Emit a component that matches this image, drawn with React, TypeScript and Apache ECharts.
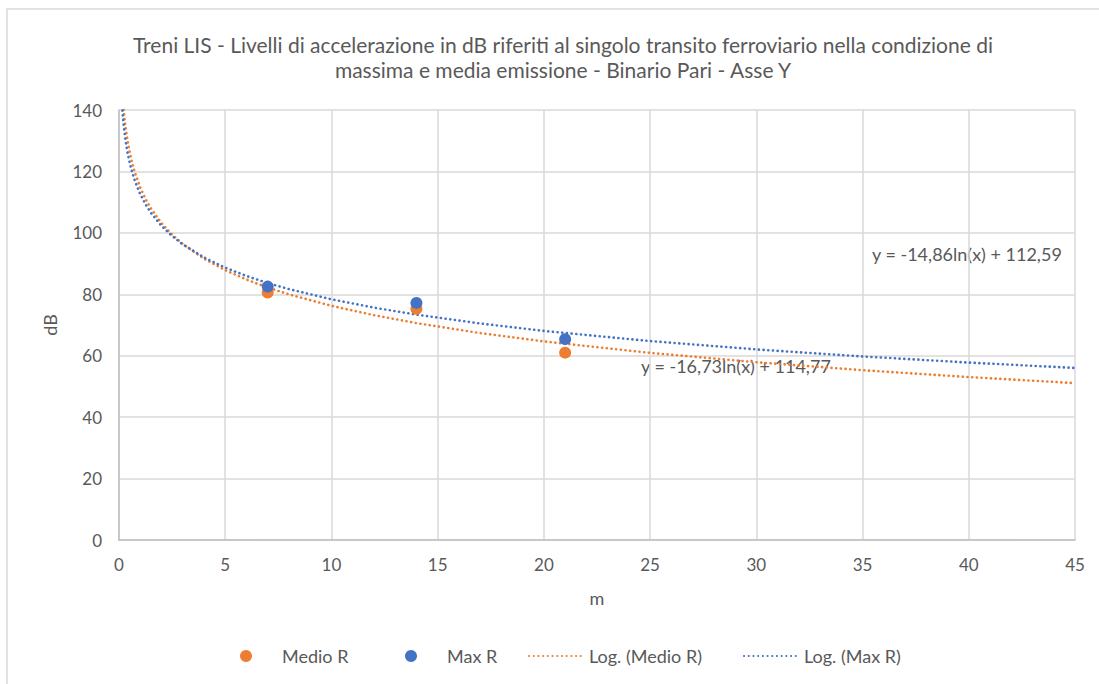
import React, { useEffect, useRef } from "react";
import * as echarts from "echarts";

const titleText =
  "Treni LIS - Livelli di accelerazione in dB riferiti al singolo transito ferroviario nella condizione di\nmassima e media emissione - Binario Pari - Asse Y";

const xTicks = [0, 5, 10, 15, 20, 25, 30, 35, 40, 45];
const yTicks = [0, 20, 40, 60, 80, 100, 120, 140];

const distances = [7, 14, 21];
const medioR = [80.6, 75.3, 61.0];
const maxR = [82.5, 77.2, 65.4];

// trendline curves (consistent with the printed equations)
const logMedioX = [0.22, 0.26, 0.3, 0.35, 0.4, 0.5, 0.6, 0.75, 1, 1.25, 1.5, 2, 2.5, 3, 4, 5, 6, 7, 8, 10, 12, 14, 17, 20, 25, 30, 35, 40, 45];
const logMedioY = [140.1, 137.31, 134.91, 132.33, 130.1, 126.37, 123.32, 119.58, 114.77, 111.04, 107.99, 103.17, 99.44, 96.39, 91.58, 87.84, 84.79, 82.21, 79.98, 76.25, 73.2, 70.62, 67.37, 64.65, 60.92, 57.87, 55.29, 53.05, 51.08];
const logMaxX = [0.16, 0.2, 0.25, 0.3, 0.35, 0.4, 0.5, 0.6, 0.75, 1, 1.25, 1.5, 2, 2.5, 3, 4, 5, 6, 7, 8, 10, 12, 14, 17, 20, 25, 30, 35, 40, 45];
const logMaxY = [139.82, 136.51, 133.19, 130.48, 128.19, 126.21, 122.89, 120.18, 116.87, 112.59, 109.27, 106.57, 102.29, 98.97, 96.27, 91.99, 88.67, 85.96, 83.67, 81.69, 78.37, 75.66, 73.37, 70.49, 68.07, 64.76, 62.05, 59.76, 57.77, 56.02];

const eqMax = "y = -14,86ln(x) + 112,59";
const eqMedio = "y = -16,73ln(x) + 114,77";

const legendNames = ["Medio R", "Max R", "Log. (Medio R)", "Log. (Max R)"];

const ORANGE = "#ED7D31";
const BLUE = "#4472C4";
const TEXT = "#595959";
const FONT = "Lato";

export default function App() {
  const ref = useRef<HTMLDivElement>(null);
  useEffect(() => {
    if (!ref.current) return;
    const chart = echarts.init(ref.current, undefined, { renderer: "svg" });
    const dotted = { type: [0.1, 4.6], width: 2.6, cap: "round" };
    const legendText = { fontSize: 18, color: TEXT, fontFamily: FONT };
    chart.setOption({
      animation: false,
      backgroundColor: "#ffffff",
      textStyle: { fontFamily: FONT, color: TEXT },
      title: {
        text: titleText,
        left: 558,
        top: 27,
        textAlign: "center",
        textStyle: { fontFamily: FONT, fontSize: 21, fontWeight: "normal", color: TEXT, lineHeight: 25 },
      },
      grid: { left: 119, right: 24, top: 110, bottom: 144 },
      xAxis: {
        type: "value",
        min: 0,
        max: 45,
        interval: 5,
        name: "m",
        nameLocation: "middle",
        nameGap: 49,
        nameTextStyle: { fontSize: 18, color: TEXT, fontFamily: FONT },
        axisLine: { show: true, onZero: false, lineStyle: { color: "#BFBFBF", width: 1.5 } },
        axisTick: { show: false },
        axisLabel: { fontSize: 17, color: TEXT, margin: 16, fontFamily: FONT, formatter: (v: number) => (xTicks.includes(v) ? String(v) : "") },
        splitLine: { show: true, lineStyle: { color: "#D9D9D9", width: 1.5 } },
      },
      yAxis: {
        type: "value",
        min: 0,
        max: 140,
        interval: 20,
        name: "dB",
        nameLocation: "middle",
        nameGap: 60,
        nameRotate: 90,
        nameTextStyle: { fontSize: 18, color: TEXT, fontFamily: FONT },
        axisLine: { show: true, lineStyle: { color: "#BFBFBF", width: 1.5 } },
        axisTick: { show: false },
        axisLabel: { fontSize: 17, color: TEXT, margin: 17, fontFamily: FONT, formatter: (v: number) => (yTicks.includes(v) ? String(v) : "") },
        splitLine: { show: true, lineStyle: { color: "#D9D9D9", width: 1.5 } },
      },
      legend: [
        { left: 240, top: 647, padding: 0, itemWidth: 62, itemHeight: 12, textStyle: legendText, data: [{ name: legendNames[0], icon: "circle" }] },
        { left: 405, top: 647, padding: 0, itemWidth: 62, itemHeight: 12, textStyle: legendText, data: [{ name: legendNames[1], icon: "circle" }] },
        { left: 528, top: 647, padding: 0, itemWidth: 55, itemHeight: 12, textStyle: legendText, data: [{ name: legendNames[2], itemStyle: { opacity: 0 } }] },
        { left: 743, top: 647, padding: 0, itemWidth: 55, itemHeight: 12, textStyle: legendText, data: [{ name: legendNames[3], itemStyle: { opacity: 0 } }] },
      ],
      graphic: [
        { type: "rect", shape: { x: 7, y: 9, width: 1200, height: 800 }, style: { fill: "none", stroke: "#D9D9D9", lineWidth: 1.5 }, silent: true },
        { type: "text", left: 872, top: 245, style: { text: eqMax, fontSize: 18, fill: TEXT, fontFamily: FONT } },
        { type: "text", left: 641, top: 357, style: { text: eqMedio, fontSize: 18, fill: TEXT, fontFamily: FONT } },
      ],
      series: [
        {
          name: legendNames[2],
          type: "line",
          data: logMedioX.map((x, i) => [x, logMedioY[i]]),
          symbol: "none",
          smooth: false,
          clip: true,
          color: ORANGE,
          lineStyle: { ...dotted, color: ORANGE },
          z: 2,
        },
        {
          name: legendNames[3],
          type: "line",
          data: logMaxX.map((x, i) => [x, logMaxY[i]]),
          symbol: "none",
          smooth: false,
          clip: true,
          color: BLUE,
          lineStyle: { ...dotted, color: BLUE },
          z: 2,
        },
        {
          name: legendNames[0],
          type: "scatter",
          data: distances.map((d, i) => [d, medioR[i]]),
          symbolSize: 12,
          itemStyle: { color: ORANGE, opacity: 1 },
          z: 3,
        },
        {
          name: legendNames[1],
          type: "scatter",
          data: distances.map((d, i) => [d, maxR[i]]),
          symbolSize: 12,
          itemStyle: { color: BLUE, opacity: 1 },
          z: 4,
        },
      ],
    });
    return () => chart.dispose();
  }, []);
  return <div ref={ref} style={{ position: "fixed", left: 0, top: 0, width: 1099, height: 684 }} />;
}
